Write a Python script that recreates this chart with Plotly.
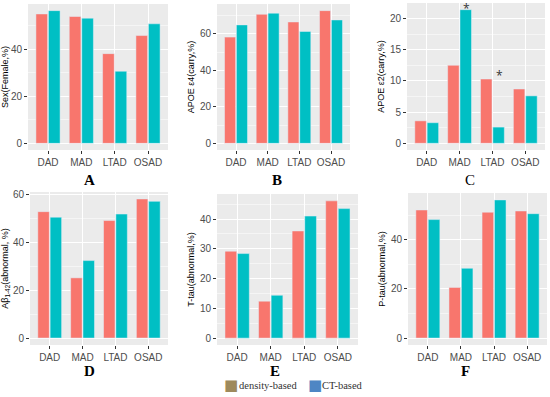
import plotly.graph_objects as go

categories = ["DAD", "MAD", "LTAD", "OSAD"]

sex_density = [55.1, 54.0, 38.2, 45.9]
sex_ct = [56.5, 53.3, 30.7, 50.9]
e4_density = [58.2, 70.7, 66.5, 72.7]
e4_ct = [64.9, 71.3, 61.3, 67.6]
e2_density = [3.6, 12.5, 10.3, 8.7]
e2_ct = [3.3, 21.4, 2.6, 7.6]
ab_density = [52.7, 25.1, 49.0, 58.0]
ab_ct = [50.4, 32.3, 51.7, 57.0]
ttau_density = [29.2, 12.4, 36.0, 46.1]
ttau_ct = [28.4, 14.4, 41.0, 43.5]
ptau_density = [52.1, 20.6, 51.2, 51.7]
ptau_ct = [48.2, 28.4, 56.2, 50.6]

panel_labels = ["A", "B", "C", "D", "E", "F"]
y_titles = ["Sex(Female,%)", "APOE ε4(carry,%)", "APOE ε2(carry,%)",
            "Aβ<sub>1-42</sub>(abnormal, %)", "T-tau(abnormal,%)", "P-tau(abnormal,%)"]
y_ticks = [[0, 20, 40], [0, 20, 40, 60], [0, 5, 10, 15, 20],
           [0, 20, 40, 60], [0, 10, 20, 30, 40], [0, 20, 40]]
series = [(sex_density, sex_ct), (e4_density, e4_ct), (e2_density, e2_ct),
          (ab_density, ab_ct), (ttau_density, ttau_ct), (ptau_density, ptau_ct)]
legend_names = ["density-based", "CT-based"]
legend_colors = ["#9E8A5C", "#4E86C4"]

W, H = 550, 397
# panel boxes in pixels: x0, x1, y0(top), y1(bottom)
boxes = [(28, 168, 4, 150), (217, 350, 4, 150), (407, 545, 3, 150),
         (30, 168, 192, 345), (217, 358, 194, 345), (408, 547, 193, 345)]
label_pos = [(89, 180), (277, 180), (470, 180), (89, 371), (275, 371), (465, 371)]

c_density = "#F8766D"
c_ct = "#00BFC4"

fig = go.Figure()
layout = {}
annotations = []
for i, ((d, c), box, ticks) in enumerate(zip(series, boxes, y_ticks)):
    n = "" if i == 0 else str(i + 1)
    xa, ya = "x" + n, "y" + n
    fig.add_trace(go.Bar(x=categories, y=d, marker_color=c_density, xaxis=xa, yaxis=ya,
                         showlegend=False, name=legend_names[0]))
    fig.add_trace(go.Bar(x=categories, y=c, marker_color=c_ct, xaxis=xa, yaxis=ya,
                         showlegend=False, name=legend_names[1]))
    vmax = max(max(d), max(c))
    x0, x1, y0, y1 = box
    step = ticks[1] - ticks[0]
    layout["xaxis" + n] = dict(domain=[x0 / W, x1 / W], anchor=ya, range=[-0.6, 3.6],
                               showgrid=True, gridcolor="white", gridwidth=1,
                               ticks="outside", ticklen=3, tickcolor="#333333",
                               tickfont=dict(family="Liberation Sans", size=10, color="#4D4D4D"),
                               showline=False, zeroline=False, fixedrange=True,
                               automargin=False)
    layout["yaxis" + n] = dict(domain=[1 - y1 / H, 1 - y0 / H], anchor=xa,
                               range=[-0.05 * vmax, 1.05 * vmax],
                               tickvals=ticks, showgrid=True, gridcolor="white", gridwidth=1,
                               minor=dict(dtick=step / 2, tick0=step / 2, showgrid=True,
                                          gridcolor="#F5F5F5", gridwidth=0.6, ticks=""),
                               ticks="outside", ticklen=3, tickcolor="#333333",
                               tickfont=dict(family="Liberation Sans", size=10, color="#4D4D4D"),
                               title=dict(text=y_titles[i], standoff=3,
                                          font=dict(family="Liberation Sans", size=9, color="black")),
                               zeroline=False, showline=False, automargin=False)
    lx, ly = label_pos[i]
    annotations.append(dict(x=lx / W, y=1 - ly / H, xref="paper", yref="paper",
                            xanchor="center", yanchor="middle",
                            text=("<b>%s</b>" % panel_labels[i]) if panel_labels[i] != "C" else panel_labels[i],
                            showarrow=False,
                            font=dict(family="Liberation Serif", size=15, color="black")))

# significance stars on panel C
annotations.append(dict(x=1, y=e2_ct[1], xref="x3", yref="y3", text="*", showarrow=False,
                        xshift=7, yshift=1, yanchor="middle", font=dict(size=12, color="#333333")))
annotations.append(dict(x=2, y=e2_ct[2], xref="x3", yref="y3", text="*", showarrow=False,
                        xshift=7, yshift=52, yanchor="middle", font=dict(size=12, color="#333333")))

# legend drawn as text (colors as drawn in the reference legend)
leg_y = 1 - 385 / H
for sx, tx, name, col in zip([231, 315], [237, 320], legend_names, legend_colors):
    annotations.append(dict(x=sx / W, y=leg_y, xref="paper", yref="paper", text="■",
                            showarrow=False, xanchor="center", yanchor="middle",
                            font=dict(family="DejaVu Sans", size=15, color=col)))
    annotations.append(dict(x=tx / W, y=leg_y, xref="paper", yref="paper", text=name,
                            showarrow=False, xanchor="left", yanchor="middle",
                            font=dict(family="Liberation Serif", size=10.5, color="#333333")))

fig.update_layout(
    width=W, height=H, margin=dict(l=0, r=0, t=0, b=0),
    paper_bgcolor="white", plot_bgcolor="#EBEBEB",
    barmode="group", bargap=0.25, bargroupgap=0.067,
    showlegend=False,
    annotations=annotations,
    **layout,
)
fig.write_html("out.html", config={"displayModeBar": False},
               post_script="document.body.style.margin='0';document.body.style.overflow='hidden';")
